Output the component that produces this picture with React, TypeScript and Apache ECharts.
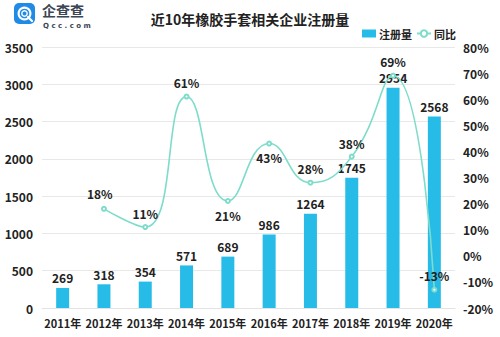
import React, { useEffect, useRef } from "react";
import * as echarts from "echarts";

const years = ["2011年", "2012年", "2013年", "2014年", "2015年", "2016年", "2017年", "2018年", "2019年", "2020年"];
const registrations = [269, 318, 354, 571, 689, 986, 1264, 1745, 2954, 2568];
const yoy: (number | null)[] = [null, 18, 11, 61, 21, 43, 28, 38, 69, -13];
const yoyLabelPos = ["top", [-14, -18], "top", "top", "bottom", "bottom", "top", [-10, -16], "top", "top"];

const FONT = "'Noto Sans CJK SC', 'Noto Sans', sans-serif";

export default function App() {
  const ref = useRef<HTMLDivElement>(null);
  useEffect(() => {
    if (!ref.current) return;
    const chart = echarts.init(ref.current, undefined, { renderer: "svg" });
    const lineData = yoy.map((v, i) => {
      if (v === null) return null;
      const pos = yoyLabelPos[i];
      return { value: v, label: { position: pos } };
    });
    chart.setOption({
      animation: false,
      backgroundColor: "#fff",
      textStyle: { fontFamily: FONT },
      title: {
        text: "近10年橡胶手套相关企业注册量",
        left: "center",
        top: 7,
        textStyle: { fontSize: 14, fontWeight: "bold", color: "#222", fontFamily: FONT },
      },
      legend: {
        left: 357,
        top: 23,
        itemWidth: 14,
        itemHeight: 8,
        itemGap: 4,
        textStyle: { fontSize: 11, fontWeight: "bold", color: "#222", fontFamily: FONT, padding: [0, 0, 0, -2] },
        data: [{ name: "注册量", icon: "rect" }, { name: "同比" }],
      },
      grid: { left: 42, right: 45, top: 47, bottom: 29 },
      xAxis: {
        type: "category",
        data: years,
        axisLine: { lineStyle: { color: "#e3e3e3" } },
        axisTick: { show: false },
        axisLabel: { interval: 0, fontSize: 11, fontWeight: "bold", color: "#222", margin: 9, fontFamily: FONT },
      },
      yAxis: [
        {
          type: "value",
          min: 0,
          max: 3500,
          interval: 500,
          axisLine: { show: false },
          axisTick: { show: false },
          splitLine: { lineStyle: { color: "#e8e8e8" } },
          axisLabel: { fontSize: 12, fontWeight: "bold", color: "#222", margin: 9, fontFamily: FONT, formatter: (v: number) => String(v) },
        },
        {
          type: "value",
          min: -20,
          max: 80,
          interval: 10,
          axisLine: { show: false },
          axisTick: { show: false },
          splitLine: { show: false },
          axisLabel: { fontSize: 12, fontWeight: "bold", color: "#222", margin: 8, formatter: "{value}%", fontFamily: FONT },
        },
      ],
      series: [
        {
          name: "注册量",
          type: "bar",
          data: registrations,
          barWidth: 13,
          itemStyle: { color: "#27BCE8" },
          label: { show: true, position: "top", fontSize: 12, fontWeight: "bold", color: "#222", distance: 4, fontFamily: FONT },
        },
        {
          name: "同比",
          type: "line",
          yAxisIndex: 1,
          data: lineData,
          smooth: 0.5,
          symbol: "emptyCircle",
          symbolSize: 4,
          itemStyle: { color: "#7EDCCB" },
          lineStyle: { color: "#7EDCCB", width: 1.6 },
          label: { show: true, fontSize: 12, fontWeight: "bold", color: "#222", formatter: "{c}%", distance: 5, fontFamily: FONT },
          z: 3,
        },
      ],
      graphic: [
        {
          type: "group",
          left: 14,
          top: 3,
          children: [
            { type: "rect", shape: { x: 0, y: 0, width: 21, height: 21, r: 5 }, style: { fill: "#1F8BE6" } },
            { type: "ring", shape: { cx: 10.5, cy: 10.5, r: 7, r0: 4.8 }, style: { fill: "#fff" } },
            { type: "ring", shape: { cx: 10.5, cy: 10.5, r: 3.4, r0: 2 }, style: { fill: "#fff" } },
            { type: "line", shape: { x1: 14, y1: 14, x2: 18, y2: 18 }, style: { stroke: "#fff", lineWidth: 2.2, lineCap: "round" } },
            {
              type: "text",
              x: 28,
              y: 0,
              style: { text: "企查查", font: "bold 14px 'Noto Sans CJK SC', sans-serif", fill: "#3B4656" },
            },
            {
              type: "text",
              x: 29,
              y: 19,
              style: { text: "Q c c . c o m", font: "bold 7px 'DejaVu Sans', sans-serif", fill: "#3B4656" },
            },
          ],
        },
      ],
    });
    return () => chart.dispose();
  }, []);
  return <div ref={ref} style={{ width: 500, height: 337, position: "absolute", left: 0, top: 0 }} />;
}
